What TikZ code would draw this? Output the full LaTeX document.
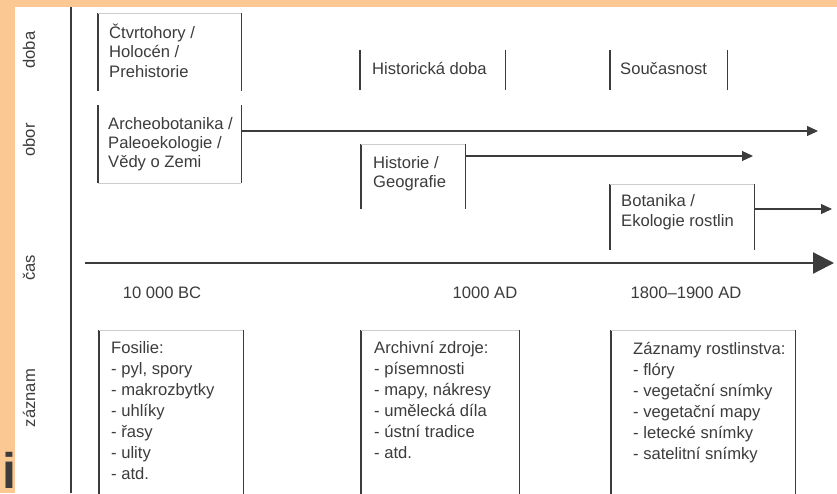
\documentclass[tikz,border=0pt]{standalone}
\usepackage{fontspec}
\setmainfont{Liberation Sans}
\usetikzlibrary{arrows.meta}

\definecolor{slide}{HTML}{FBC793}
\definecolor{ink}{HTML}{3C3C3C}
\definecolor{faint}{HTML}{CDCDCD}

\begin{document}
\begin{tikzpicture}[x=1pt,y=-1pt,
  txt/.style={anchor=base west,inner sep=0pt,text=ink,font=\fontsize{16.6}{20}\selectfont},
  side/.style={draw=ink,line width=1.1pt},
  rim/.style={draw=faint,line width=0.9pt},
  arr/.style={draw=ink,line width=1.1pt,-{Triangle[length=11pt,width=10pt]}},
  axis/.style={draw=ink,line width=2.3pt,-{Triangle[length=21pt,width=21pt]}},
  box/.style={inner sep=0pt,minimum width=#1,anchor=north west}]
\useasboundingbox (0,0) rectangle (837,493);
\fill[slide] (0,0) rectangle (837,493);
\fill[white] (15,7) rectangle (837,493);
\draw[side] (71,7) -- (71,493);

% row labels
\foreach \t/\y in {doba/50,obor/140,čas/268,záznam/398}
  {\node[txt,anchor=center,rotate=90] (row-\t) at (29,\y) {\t};}

% doba
\node[box=143,minimum height=78] (quat) at (98,13) {};
\draw[side] (quat.north west) -- (quat.south west) (quat.north east) -- (quat.south east);
\draw[rim] (quat.north west) -- (quat.north east);
\foreach \t [count=\i from 0] in {Čtvrtohory /,Holocén /,Prehistorie}
  {\node[txt] (quat-\i) at (109,38+19.5*\i) {\t};}

\node[box=145,minimum height=40] (histdoba) at (360,50) {};
\draw[side] (histdoba.north west) -- (histdoba.south west) (histdoba.north east) -- (histdoba.south east);
\node[txt] (histdoba-t) at (372,74) {Historická doba};

\node[box=117,minimum height=40] (soucas) at (610,50) {};
\draw[side] (soucas.north west) -- (soucas.south west) (soucas.north east) -- (soucas.south east);
\node[txt] (soucas-t) at (620,74) {Současnost};

% obor
\node[box=143,minimum height=78] (arch) at (98,105) {};
\draw[side] (arch.north west) -- (arch.south west) (arch.north east) -- (arch.south east);
\draw[rim] (arch.south west) -- (arch.south east);
\foreach \t [count=\i from 0] in {Archeobotanika /,Paleoekologie /,Vědy o Zemi}
  {\node[txt] (arch-\i) at (108,129+19*\i) {\t};}
\coordinate (archend) at (818,131);
\draw[arr] (arch.east |- archend) -- (archend);

\node[box=104,minimum height=65] (hist) at (361,144) {};
\draw[side] (hist.north west) -- (hist.south west) (hist.north east) -- (hist.south east);
\draw[rim] (hist.north west) -- (hist.north east);
\foreach \t [count=\i from 0] in {Historie /,Geografie}
  {\node[txt] (hist-\i) at (373,168+19*\i) {\t};}
\coordinate (histend) at (753,156);
\draw[arr] (hist.east |- histend) -- (histend);

\node[box=144,minimum height=66] (bot) at (610,184) {};
\draw[side] (bot.north west) -- (bot.south west) (bot.north east) -- (bot.south east);
\draw[rim] (bot.north west) -- (bot.north east);
\foreach \t [count=\i from 0] in {Botanika /,Ekologie rostlin}
  {\node[txt] (bot-\i) at (621,206+20*\i) {\t};}
\coordinate (botend) at (832,209);
\draw[arr] (bot.east |- botend) -- (botend);

% cas
\coordinate (tstart) at (85,263);
\coordinate (tend) at (834,263);
\draw[axis] (tstart) -- (tend);
\node[txt,anchor=base] (t-bc) at (162,298) {10 000 BC};
\node[txt,anchor=base] (t-ad) at (485,298) {1000 AD};
\node[txt,anchor=base] (t-mod) at (686,298) {1800–1900 AD};

% zaznam
\node[box=144,minimum height=170] (fos) at (99,330) {};
\node[box=158,minimum height=170] (archiv) at (361,330) {};
\node[box=184,minimum height=170] (flora) at (611,330) {};
\foreach \n in {fos,archiv,flora} {
  \draw[side] (\n.north west) -- (\n.south west) (\n.north east) -- (\n.south east);
  \draw[rim] (\n.north west) -- (\n.north east);
}
\foreach \t [count=\i from 0] in {Fosilie:,{- pyl, spory},- makrozbytky,- uhlíky,- řasy,- ulity,- atd.}
  {\node[txt] (fos-\i) at (111,353+21*\i) {\t};}
\foreach \t [count=\i from 0] in {Archivní zdroje:,- písemnosti,{- mapy, nákresy},- umělecká díla,- ústní tradice,- atd.}
  {\node[txt] (archiv-\i) at (374,353+21*\i) {\t};}
\foreach \t [count=\i from 0] in {Záznamy rostlinstva:,- flóry,- vegetační snímky,- vegetační mapy,- letecké snímky,- satelitní snímky}
  {\node[txt] (flora-\i) at (633,354+21*\i) {\t};}

\node[anchor=base west,inner sep=0pt,text=ink,font=\bfseries\fontsize{50}{50}\selectfont] (slide-i) at (2.5,488) {i};
\end{tikzpicture}
\end{document}
